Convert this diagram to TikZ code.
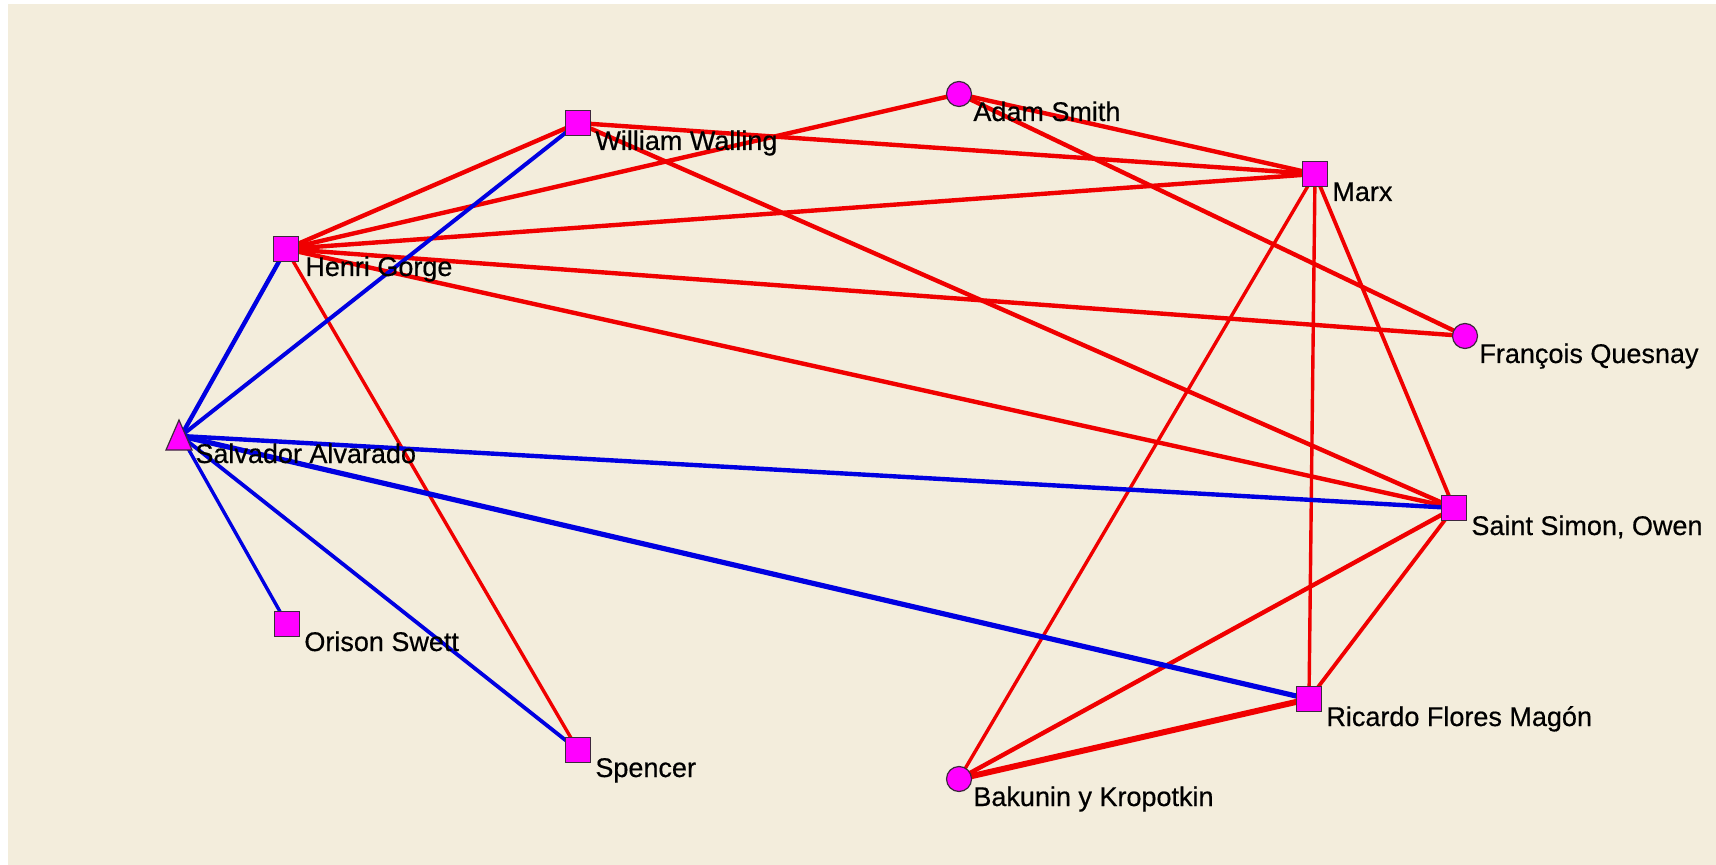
\documentclass[tikz,border=0pt]{standalone}
\usepackage{fontspec}
\setmainfont{Liberation Sans}[FakeBold=0.4]
\newfontfamily\lblfont{Liberation Sans}[FakeBold=0.5]
\usetikzlibrary{calc}
\definecolor{bgc}{RGB}{243,237,220}
\definecolor{redl}{RGB}{240,0,0}
\definecolor{bluel}{RGB}{0,0,225}
\definecolor{nodefill}{RGB}{255,0,255}
\definecolor{nodeborder}{RGB}{60,40,60}
\begin{document}
\begin{tikzpicture}[x=0.5pt,y=-0.5pt,
  sq/.style={rectangle,draw=nodeborder,fill=nodefill,line width=0.6pt,inner sep=0pt,minimum size=12.5pt},
  circ/.style={circle,draw=nodeborder,fill=nodefill,line width=0.6pt,inner sep=0pt,minimum size=12.5pt},
  lbl/.style={anchor=base west,inner sep=0pt,font=\lblfont\fontsize{13.5pt}{15pt}\selectfont,text=black},
  redge/.style={draw=redl,line width=2.2pt},
  bedge/.style={draw=bluel,line width=2.2pt}]
\useasboundingbox (0,0) rectangle (1716,865);
\fill[white] (0,0) rectangle (1716,865);
\fill[bgc] (8,4) rectangle (1716,865);

% positions
\coordinate (ww) at (578,123);
\coordinate (as) at (959,94);
\coordinate (mx) at (1315,174);
\coordinate (hg) at (286,249);
\coordinate (fq) at (1465,336);
\coordinate (sa) at (181,436);
\coordinate (ss) at (1454,508);
\coordinate (os) at (287,624);
\coordinate (rf) at (1309,699);
\coordinate (sp) at (578,750);
\coordinate (bk) at (959,779);

% red edges
\draw[redge] (hg) -- (ww);
\draw[redge] (hg) -- (as);
\draw[redge] (hg) -- (mx);
\draw[redge] (hg) -- (fq);
\draw[redge] (hg) -- (ss);
\draw[redge,line width=1.7pt] (hg) -- (sp);
\draw[redge] (ww) -- (mx);
\draw[redge] (ww) -- (ss);
\draw[redge] (as) -- (mx);
\draw[redge] (as) -- (fq);
\draw[redge,line width=1.7pt] (mx) -- (bk);
\draw[redge,line width=1.7pt] (mx) -- (rf);
\draw[redge,line width=1.9pt] (mx) -- (ss);
\draw[redge] (ss) -- (bk);
\draw[redge,line width=1.9pt] (ss) -- (rf);
\draw[redge,line width=3pt] (rf) -- (bk);

% blue edges
\draw[bedge] (sa) -- (hg);
\draw[bedge,line width=2pt] (sa) -- (ww);
\draw[bedge] (sa) -- (ss);
\draw[bedge,line width=2.6pt] (sa) -- (rf);
\draw[bedge,line width=1.7pt] (sa) -- (os);
\draw[bedge,line width=1.9pt] (sa) -- (sp);

% nodes
\node[sq] (nww) at (ww) {};
\node[circ] (nas) at (as) {};
\node[sq] (nmx) at (mx) {};
\node[sq] (nhg) at (hg) {};
\node[circ] (nfq) at (fq) {};
\filldraw[fill=nodefill,draw=nodeborder,line width=0.6pt] (179,420) -- (192,450) -- (166,450) -- cycle;
\node[sq] (nss) at (ss) {};
\node[sq] (nos) at (os) {};
\node[sq] (nrf) at (rf) {};
\node[sq] (nsp) at (sp) {};
\node[circ] (nbk) at (bk) {};

% labels
\node[lbl] (lww) at ($(ww)+(17,27)$) {William Walling};
\node[lbl] (las) at ($(as)+(14,27)$) {Adam Smith};
\node[lbl] (lmx) at ($(mx)+(17,27)$) {Marx};
\node[lbl] (lhg) at ($(hg)+(19,27)$) {Henri Gorge};
\node[lbl] (lfq) at ($(fq)+(14,27)$) {François Quesnay};
\node[lbl] (lsa) at ($(sa)+(14,27)$) {Salvador Alvarado};
\node[lbl] (lss) at ($(ss)+(17,27)$) {Saint Simon, Owen};
\node[lbl] (los) at ($(os)+(17,27)$) {Orison Swett};
\node[lbl] (lrf) at ($(rf)+(17,27)$) {Ricardo Flores Magón};
\node[lbl] (lsp) at ($(sp)+(17,27)$) {Spencer};
\node[lbl] (lbk) at ($(bk)+(14,27)$) {Bakunin y Kropotkin};
\end{tikzpicture}
\end{document}
